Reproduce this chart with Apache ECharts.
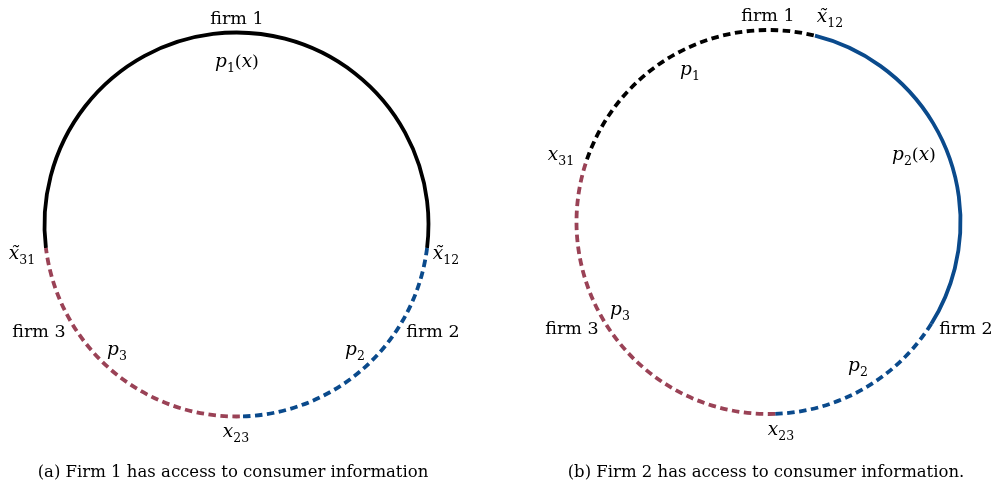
<!DOCTYPE html>
<html>
<head>
<meta charset="utf-8">
<script src="https://cdn.jsdelivr.net/npm/echarts@6/dist/echarts.min.js"></script>
<style>
  html, body { margin: 0; padding: 0; background: #fff; }
  #main { width: 992px; height: 485px; }
</style>
</head>
<body>
<div id="main"></div>
<script>
var myChart = echarts.init(document.getElementById('main'));

// arc ends in degrees, counter-clockwise from 3 o'clock
// (a) firm 1 has the information
const arcA1 = [-7, 187];     // p1(x)
const arcA2 = [-89, -7];     // p2
const arcA3 = [187, 271];    // p3
// (b) firm 2 has the information
const arcB1 = [76, 161];     // p1
const arcB2x = [-32, 76];    // p2(x)
const arcB2 = [-88, -32];    // p2
const arcB3 = [161, 272];    // p3

const textsA = ['firm 1', 'p1(x)', 'x̃31', 'x̃12', 'firm 3', 'p3', 'firm 2', 'p2', 'x23']
const textsB = ['firm 1', 'x̃12', 'p1', 'x31', 'p2(x)', 'p3', 'firm 3', 'firm 2', 'p2', 'x23']
const captions = ['(a) Firm 1 has access to consumer information', '(b) Firm 2 has access to consumer information.']

const BLACK = '#000000', BLUE = '#0a4a8c', RED = '#9a4256'
const FONT = 'DejaVu Serif'

function arcSeries(grid, arc, color, dashed) {
    return {
        type: 'custom',
        xAxisIndex: grid,
        yAxisIndex: grid,
        data: [arc],
        silent: true,
        renderItem: function (params, api) {
            var c = api.coord([0, 0])
            var r = api.size([1, 1])[0]
            var a0 = api.value(0) * Math.PI / 180
            var a1 = api.value(1) * Math.PI / 180
            return {
                type: 'arc',
                shape: { cx: c[0], cy: c[1], r: r, startAngle: -a1, endAngle: -a0, clockwise: true },
                style: {
                    fill: null,
                    stroke: color,
                    lineWidth: 3.8,
                    lineDash: dashed ? [7.5, 4.5] : null
                }
            }
        }
    }
}

// turn "p1(x)" / "x̃31" into rich text pieces
function mathText(s) {
    if (s.indexOf('firm') === 0) return '{n|' + s + '}'
    var m = s.match(/^([a-zA-Z]\u0303?)(\d+)(\(x\))?$/)
    var out = '{i|' + m[1] + '}{s|' + m[2] + '}'
    if (m[3]) out += '{n|(}{i|x}{n|)}'
    return out
}

const rich = {
    n: { fontFamily: FONT, fontSize: 17.5, lineHeight: 26, verticalAlign: 'middle', fill: '#000' },
    i: { fontFamily: FONT, fontSize: 18.5, fontStyle: 'italic', lineHeight: 26, verticalAlign: 'middle', fill: '#000' },
    s: { fontFamily: FONT, fontSize: 12.5, lineHeight: 26, verticalAlign: 'bottom', fill: '#000' }
}

const posA = [[237, 19], [237, 62], [22, 254], [446, 254], [39, 332], [117, 350], [433, 332], [355, 350], [236, 432]]
const posB = [[768, 16], [830, 17], [690, 70], [561, 155], [914, 155], [620, 310], [572, 329], [966, 329], [858, 366], [781, 430]]

function label(t, p) {
    return {
        type: 'text', x: p[0], y: p[1], silent: true,
        style: { text: mathText(t), rich: rich, align: 'center', verticalAlign: 'middle' }
    }
}

var graphics = []
textsA.forEach((t, k) => graphics.push(label(t, posA[k])))
textsB.forEach((t, k) => graphics.push(label(t, posB[k])))
graphics.push({
    type: 'text', x: 233, y: 473, silent: true,
    style: { text: captions[0], fontFamily: FONT, fontSize: 16.5, fill: '#000', align: 'center', verticalAlign: 'middle' }
})
graphics.push({
    type: 'text', x: 766, y: 473, silent: true,
    style: { text: captions[1], fontFamily: FONT, fontSize: 16.5, fill: '#000', align: 'center', verticalAlign: 'middle' }
})

const hiddenAxis = { type: 'value', min: -1, max: 1, show: false }

option = {
    animation: false,
    grid: [
        { left: 44.5, top: 32.5, width: 384, height: 384 },
        { left: 576.5, top: 30, width: 384, height: 384 }
    ],
    xAxis: [Object.assign({ gridIndex: 0 }, hiddenAxis), Object.assign({ gridIndex: 1 }, hiddenAxis)],
    yAxis: [Object.assign({ gridIndex: 0 }, hiddenAxis), Object.assign({ gridIndex: 1 }, hiddenAxis)],
    graphic: graphics,
    series: [
        arcSeries(0, arcA1, BLACK, false),
        arcSeries(0, arcA2, BLUE, true),
        arcSeries(0, arcA3, RED, true),
        arcSeries(1, arcB1, BLACK, true),
        arcSeries(1, arcB2x, BLUE, false),
        arcSeries(1, arcB2, BLUE, true),
        arcSeries(1, arcB3, RED, true)
    ]
};

myChart.setOption(option);
</script>
</body>
</html>
